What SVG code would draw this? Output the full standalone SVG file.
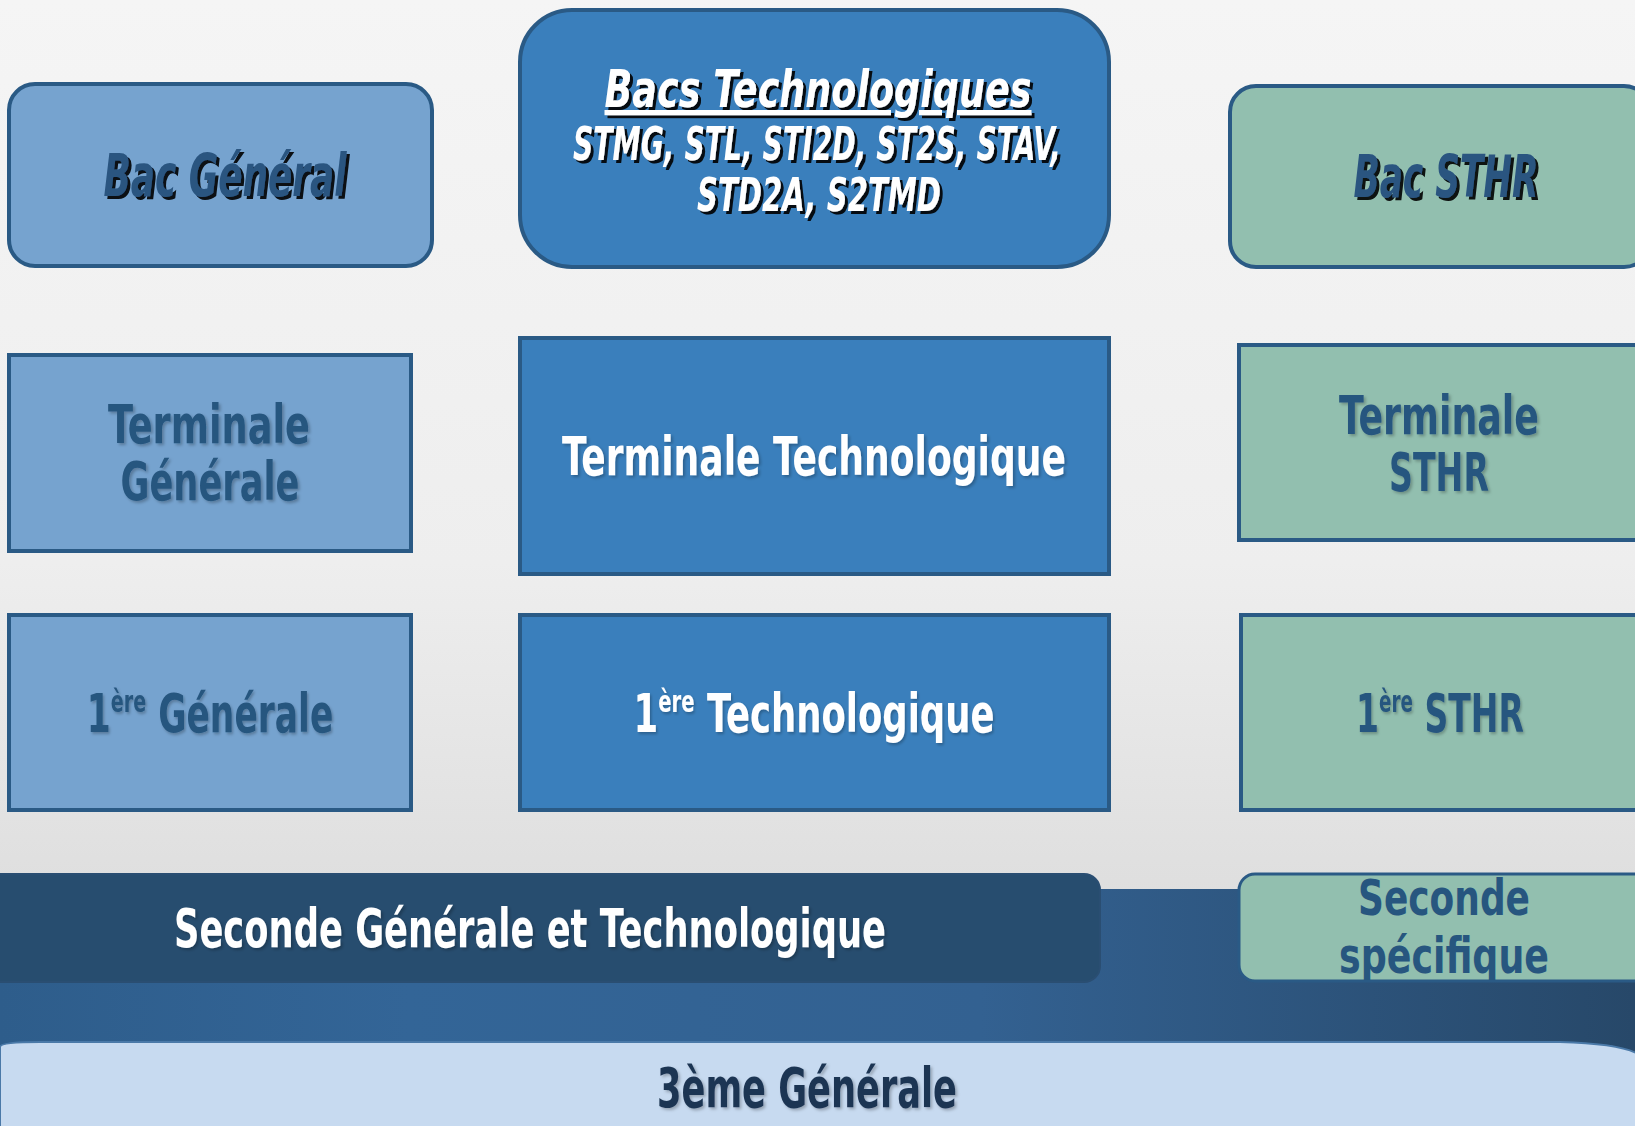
<svg xmlns="http://www.w3.org/2000/svg" width="1635" height="1126" viewBox="0 0 1635 1126">
<defs>
<linearGradient id="bg" x1="0" y1="0" x2="0" y2="1">
<stop offset="0" stop-color="#f5f5f5"/>
<stop offset="0.5" stop-color="#eeeeee"/>
<stop offset="0.8" stop-color="#dedede"/>
<stop offset="1" stop-color="#d8d8d8"/>
</linearGradient>
<linearGradient id="band" x1="0" y1="0" x2="1" y2="0">
<stop offset="0" stop-color="#2e5d8b"/>
<stop offset="0.25" stop-color="#336597"/>
<stop offset="0.6" stop-color="#336191"/>
<stop offset="1" stop-color="#274869"/>
</linearGradient>
<filter id="sh" x="-10%" y="-20%" width="130%" height="150%">
<feDropShadow dx="3" dy="3" stdDeviation="0.6" flood-color="#000" flood-opacity="0.9"/>
</filter>
<filter id="sh2" x="-10%" y="-20%" width="130%" height="150%">
<feDropShadow dx="2" dy="2" stdDeviation="1.5" flood-color="#000" flood-opacity="0.25"/>
</filter>
<clipPath id="cs"><rect x="1240" y="875" width="400" height="105" rx="15"/></clipPath>
</defs>
<style>
.t{font-family:"Liberation Sans Narrow","DejaVu Sans Condensed","Liberation Sans",sans-serif;font-weight:bold;text-anchor:middle}
.dk{fill:#27567f}
.wh{fill:#ffffff}
.it{font-style:italic}
.bg{fill:#76a3cf;stroke:#2a5a85;stroke-width:4}
.bt{fill:#3a7fbc;stroke:#2a5a85;stroke-width:4}
.bs{fill:#92bfaf;stroke:#2a5a85;stroke-width:4}
</style>
<rect x="0" y="0" width="1635" height="1126" fill="url(#bg)"/>
<rect x="0" y="889" width="1635" height="165" fill="url(#band)"/>

<g id="bac-general">
<rect class="bg" x="9" y="84" width="423" height="182" rx="26"/>
<text class="t it" x="225" y="196" font-size="58" fill="#2a5580" filter="url(#sh)" textLength="243" lengthAdjust="spacingAndGlyphs">Bac Général</text>
</g>

<g id="bacs-technologiques">
<rect class="bt" x="520" y="10" width="589" height="257" rx="52"/>
<g filter="url(#sh)">
<text class="t it wh" x="818" y="107" font-size="52" text-decoration="underline" textLength="427" lengthAdjust="spacingAndGlyphs">Bacs Technologiques</text>
<text class="t it wh" x="817" y="160" font-size="46" textLength="488" lengthAdjust="spacingAndGlyphs">STMG, STL, STI2D, ST2S, STAV,</text>
<text class="t it wh" x="819" y="211" font-size="46" textLength="244" lengthAdjust="spacingAndGlyphs">STD2A, S2TMD</text>
</g>
</g>

<g id="bac-sthr">
<rect class="bs" x="1230" y="86" width="420" height="181" rx="26"/>
<text class="t it" x="1446" y="197" font-size="58" fill="#2a5580" filter="url(#sh)" textLength="185" lengthAdjust="spacingAndGlyphs">Bac STHR</text>
</g>

<g id="terminale-generale">
<rect class="bg" x="9" y="355" width="402" height="196"/>
<text class="t dk" x="209" y="443" font-size="54" filter="url(#sh2)" textLength="202" lengthAdjust="spacingAndGlyphs">Terminale</text>
<text class="t dk" x="210" y="500" font-size="54" filter="url(#sh2)" textLength="179" lengthAdjust="spacingAndGlyphs">Générale</text>
</g>

<g id="terminale-technologique">
<rect class="bt" x="520" y="338" width="589" height="236"/>
<text class="t wh" x="814" y="475" font-size="54" filter="url(#sh2)" textLength="504" lengthAdjust="spacingAndGlyphs">Terminale Technologique</text>
</g>

<g id="terminale-sthr">
<rect class="bs" x="1239" y="345" width="410" height="195"/>
<text class="t dk" x="1439" y="434" font-size="54" filter="url(#sh2)" textLength="200" lengthAdjust="spacingAndGlyphs">Terminale</text>
<text class="t dk" x="1439" y="491" font-size="54" filter="url(#sh2)" textLength="100" lengthAdjust="spacingAndGlyphs">STHR</text>
</g>

<g id="premiere-generale">
<rect class="bg" x="9" y="615" width="402" height="195"/>
<text class="t dk" transform="translate(210,732) scale(0.71,1)" x="0" y="0" font-size="54" filter="url(#sh2)">1<tspan font-size="30" dy="-20">ère</tspan><tspan dy="20"> Générale</tspan></text>
</g>

<g id="premiere-technologique">
<rect class="bt" x="520" y="615" width="589" height="195"/>
<text class="t wh" transform="translate(814,732) scale(0.73,1)" x="0" y="0" font-size="54" filter="url(#sh2)">1<tspan font-size="30" dy="-20">ère</tspan><tspan dy="20"> Technologique</tspan></text>
</g>

<g id="premiere-sthr">
<rect class="bs" x="1241" y="615" width="410" height="195"/>
<text class="t dk" transform="translate(1440,732) scale(0.68,1)" x="0" y="0" font-size="54" filter="url(#sh2)">1<tspan font-size="30" dy="-20">ère</tspan><tspan dy="20"> STHR</tspan></text>
</g>

<g id="seconde-gt">
<rect x="-20" y="874" width="1120" height="108" rx="16" fill="#274d6f" stroke="#2a4e72" stroke-width="2"/>
<text class="t wh" x="530" y="947" font-size="54" filter="url(#sh2)" textLength="712" lengthAdjust="spacingAndGlyphs">Seconde Générale et Technologique</text>
</g>

<g id="seconde-specifique">
<rect x="1239" y="874" width="420" height="107" rx="16" fill="#92bfaf" stroke="#2a5a85" stroke-width="3"/>
<g clip-path="url(#cs)">
<text class="t dk" x="1444" y="915" font-size="50" textLength="172" lengthAdjust="spacingAndGlyphs">Seconde</text>
<text class="t dk" x="1444" y="973" font-size="50" textLength="210" lengthAdjust="spacingAndGlyphs">spécifique</text>
</g>
</g>

<g id="troisieme-generale">
<path d="M0,1047 Q0,1042 40,1042 L1560,1042 Q1635,1044 1645,1060 L1645,1130 L0,1130 Z" fill="#c7daf0" stroke="#4a79a8" stroke-width="2"/>
<text class="t" x="807" y="1107" font-size="56" fill="#1e3553" filter="url(#sh2)" textLength="300" lengthAdjust="spacingAndGlyphs">3ème Générale</text>
</g>

<g id="connectors"></g>
</svg>
